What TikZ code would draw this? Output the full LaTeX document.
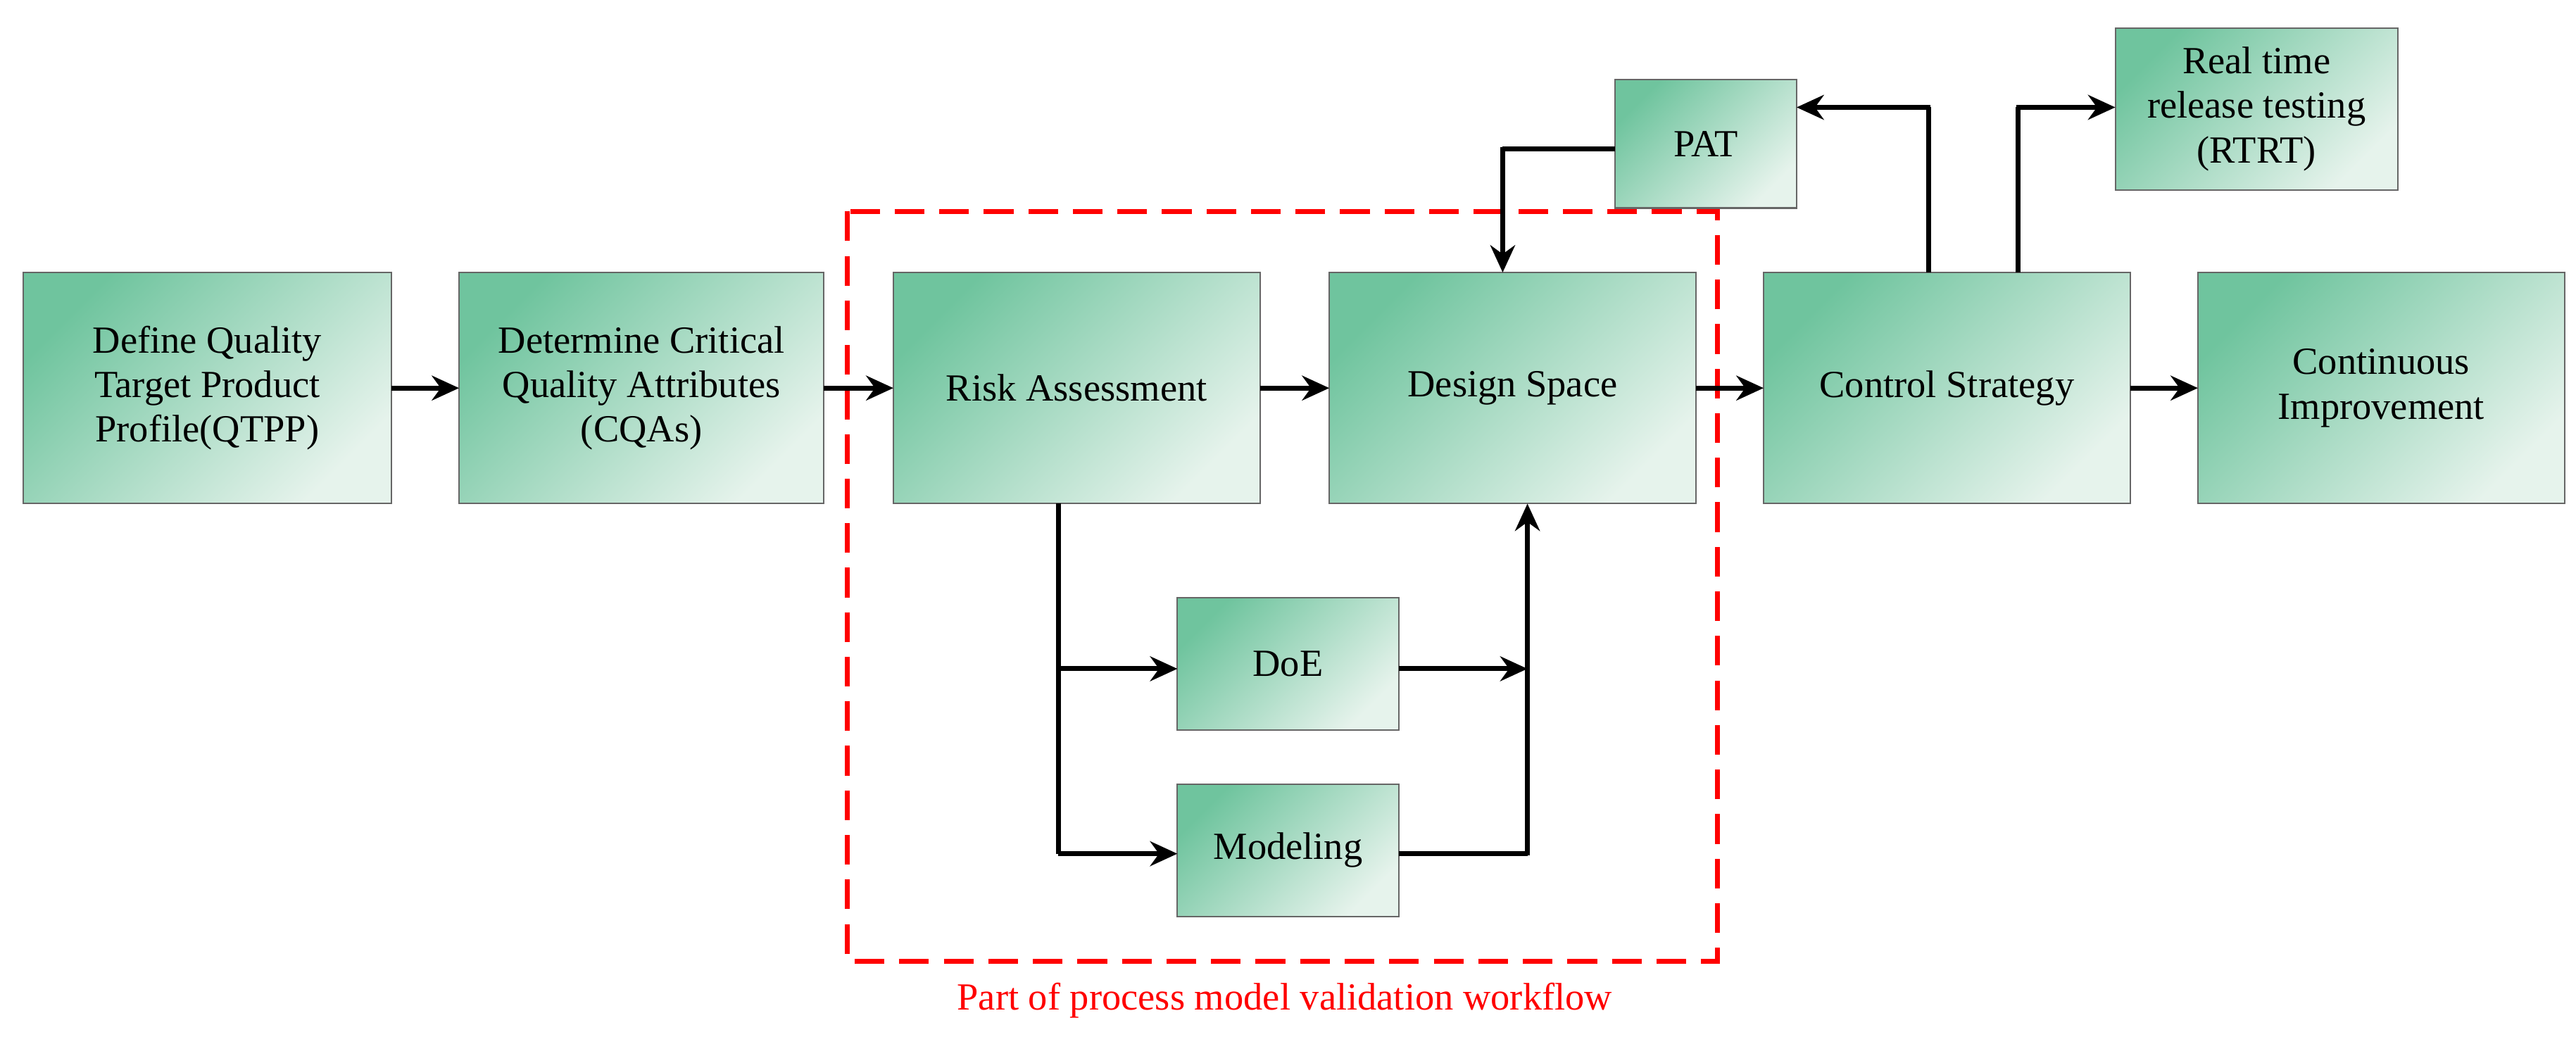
\documentclass[tikz,border=0pt]{standalone}
\usepackage{fontspec}
\setmainfont{Liberation Serif}
\usetikzlibrary{arrows.meta}
\definecolor{gA}{HTML}{6FC49E}
\definecolor{gB}{HTML}{E6F3EC}
\begin{document}
\begin{tikzpicture}[x=0.02345cm,y=-0.02345cm,
 box/.style={draw=black!60,line width=0.6pt,top color=gA,bottom color=gB,shading angle=45},
 conn/.style={line width=2pt,-{Stealth[length=11pt,width=10pt]}},
 ln/.style={line width=2pt}]
\useasboundingbox (0,0) rectangle (1560,628);
\def\B#1#2#3#4#5#6{\path[box] (#2,#3) rectangle (#4,#5); \node[align=center,font=\fontsize{15.5}{18}\selectfont] (#1) at ({(#2+#4)/2},{(#3+#5)/2}) {#6};}
\B{q}{14}{165}{237}{305}{Define Quality\\Target Product\\Profile(QTPP)}
\B{c}{278}{165}{499}{305}{Determine Critical\\Quality Attributes\\(CQAs)}
\B{r}{541}{165}{763}{305}{Risk Assessment}
\B{d}{805}{165}{1027}{305}{Design Space}
\B{s}{1068}{165}{1290}{305}{Control Strategy}
\B{i}{1331}{165}{1553}{305}{Continuous\\Improvement}
\B{e}{713}{362}{847}{442}{DoE}
\B{m}{713}{475}{847}{555}{Modeling}
\draw[red,line width=2pt,dash pattern=on 12pt off 6pt] (513,128) rectangle (1040,582);
\B{p}{978}{48}{1088}{126}{PAT}
\B{t}{1281}{17}{1452}{115}{Real time\\release testing\\(RTRT)}
\node[red,font=\fontsize{15.5}{18}\selectfont] (lbl) at (778,606) {Part of process model validation workflow};
\draw[conn] (237,235) -- (278,235);
\draw[conn] (499,235) -- (541,235);
\draw[conn] (763,235) -- (805,235);
\draw[conn] (1027,235) -- (1068,235);
\draw[conn] (1290,235) -- (1331,235);
\draw[ln] (641,305) -- (641,517);
\draw[conn] (641,405) -- (713,405);
\draw[conn] (641,517) -- (713,517);
\draw[conn] (847,405) -- (925,405);
\draw[ln] (847,517) -- (925,517);
\draw[conn] (925,518) -- (925,305);
\draw[ln] (978,90) -- (910,90);
\draw[conn] (910,89) -- (910,165);
\draw[ln] (1168,165) -- (1168,65);
\draw[conn] (1169,65) -- (1088,65);
\draw[ln] (1222,165) -- (1222,65);
\draw[conn] (1221,65) -- (1281,65);
\end{tikzpicture}
\end{document}
